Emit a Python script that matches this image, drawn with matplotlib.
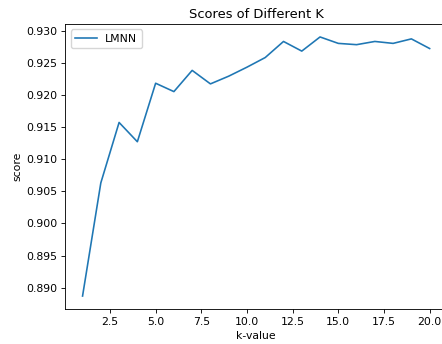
import matplotlib
matplotlib.use("Agg")
import matplotlib.pyplot as plt

k_values = list(range(1, 21))
scores = [0.8887, 0.9063, 0.9157, 0.9127, 0.9218, 0.9205, 0.9238, 0.9217,
          0.9229, 0.9243, 0.9258, 0.9283, 0.9268, 0.9290, 0.9280, 0.9278,
          0.9283, 0.9280, 0.9287, 0.9272]

s = 0.78
fig = plt.figure(figsize=(4.42, 3.44), dpi=100)
ax = fig.add_axes([65.2 / 442, 35 / 344, 381.8 / 442, 285 / 344])
ax.plot(k_values, scores, color="#1f77b4", linewidth=1.5 * s, label="LMNN")
ax.set_title("Scores of Different K", fontsize=12 * s, pad=6 * s)
ax.set_xlabel("k-value", fontsize=10 * s, labelpad=4 * s)
ax.set_ylabel("score", fontsize=10 * s, labelpad=4 * s)
ax.tick_params(labelsize=10 * s, width=0.8 * s, length=3.5 * s, pad=3.5 * s)
for sp in ax.spines.values():
    sp.set_linewidth(0.8 * s)
ax.legend(loc="upper left", fontsize=10 * s)
fig.savefig("out.png", dpi=100)
